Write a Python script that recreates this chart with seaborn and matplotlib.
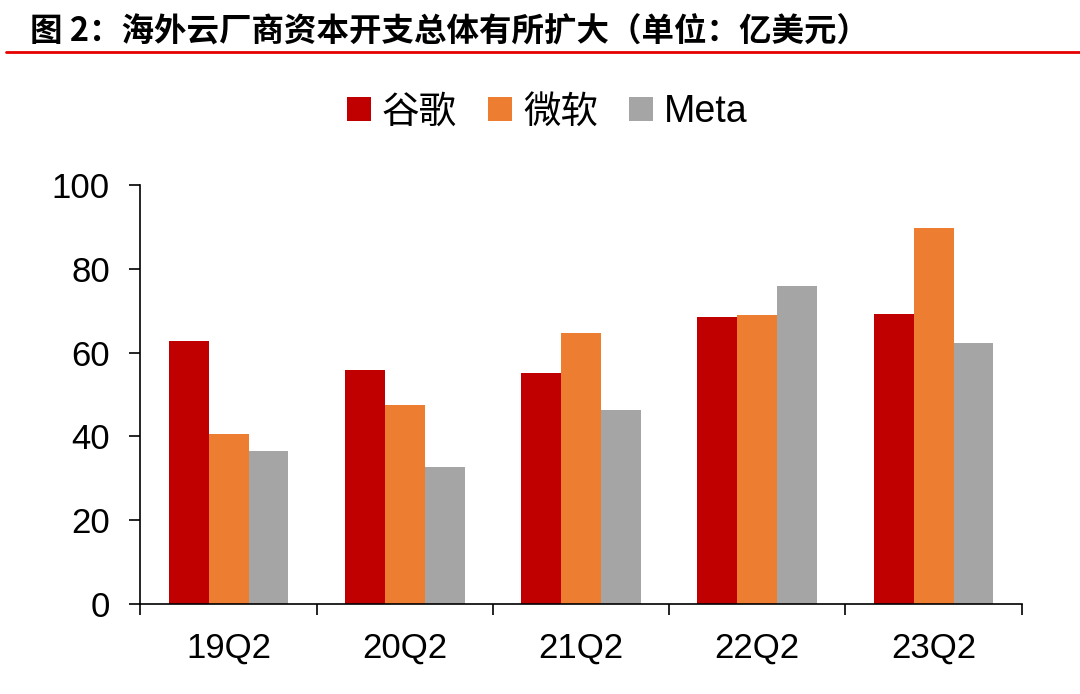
import matplotlib
matplotlib.use("Agg")
import matplotlib.pyplot as plt
from matplotlib.lines import Line2D
import seaborn as sns
import pandas as pd
import numpy as np

# 数据（亿美元）
quarters = ["19Q2", "20Q2", "21Q2", "22Q2", "23Q2"]
google = [62.8, 55.8, 55.2, 68.5, 69.1]
microsoft = [40.6, 47.6, 64.7, 68.9, 89.7]
meta = [36.6, 32.8, 46.4, 75.9, 62.4]
series_names = ["谷歌", "微软", "Meta"]
colors = ["#C00000", "#ED7D31", "#A5A5A5"]

df = pd.DataFrame({
    "quarter": quarters * 3,
    "company": [series_names[0]] * 5 + [series_names[1]] * 5 + [series_names[2]] * 5,
    "value": google + microsoft + meta,
})

sns.set_theme(style="ticks")
plt.rcParams['font.family'] = ['Liberation Sans', 'Noto Sans CJK SC', 'DejaVu Sans']
plt.rcParams['text.color'] = 'black'
plt.rcParams['xtick.color'] = 'black'
plt.rcParams['ytick.color'] = 'black'
plt.rcParams['axes.edgecolor'] = 'black'

fig = plt.figure(figsize=(10.8, 6.94), dpi=100)
ax = fig.add_axes([0.130, 0.1297, 0.816, 0.6037])

sns.barplot(data=df, x="quarter", y="value", hue="company", order=quarters,
            hue_order=series_names, palette=colors, width=0.68, gap=0,
            saturation=1, linewidth=0, ax=ax, legend=True)

ax.set_ylim(0, 100)
ax.set_xlim(-0.5, len(quarters) - 0.5)
ax.set_yticks([0, 20, 40, 60, 80, 100])
ax.set_xlabel("")
ax.set_ylabel("")
ax.tick_params(axis="y", labelsize=25, length=8, width=1.2, left=True,
               direction="out", pad=14, labelcolor="black")
ax.tick_params(axis="x", which="major", labelsize=25, length=0, pad=20, labelcolor="black")
ax.set_xticks(np.arange(-0.5, len(quarters)), minor=True)
ax.tick_params(axis="x", which="minor", length=8, width=1.2, direction="out", bottom=True)
for s in ["top", "right"]:
    ax.spines[s].set_visible(False)
for s in ["left", "bottom"]:
    ax.spines[s].set_linewidth(1.2)

handles, labels = ax.get_legend_handles_labels()
ax.get_legend().remove()
fig.legend(handles, labels, loc="center", bbox_to_anchor=(0.507, 0.838), ncol=3,
           frameon=False, handlelength=0.62, handleheight=0.62,
           handletextpad=0.3, columnspacing=0.84, labelcolor="black",
           prop={'family': ['Liberation Sans', 'Noto Sans CJK SC'], 'size': 27})

fig.text(0.028, 0.954, "图 2：海外云厂商资本开支总体有所扩大（单位：亿美元）",
         fontsize=23.4, fontweight="bold", ha="left", va="center", color="black",
         family=['Noto Sans CJK SC', 'DejaVu Sans'])
fig.add_artist(Line2D([0.006, 1.0], [0.925, 0.925], color="#E60000", linewidth=2,
                      transform=fig.transFigure))

fig.savefig("out.png", dpi=100)
